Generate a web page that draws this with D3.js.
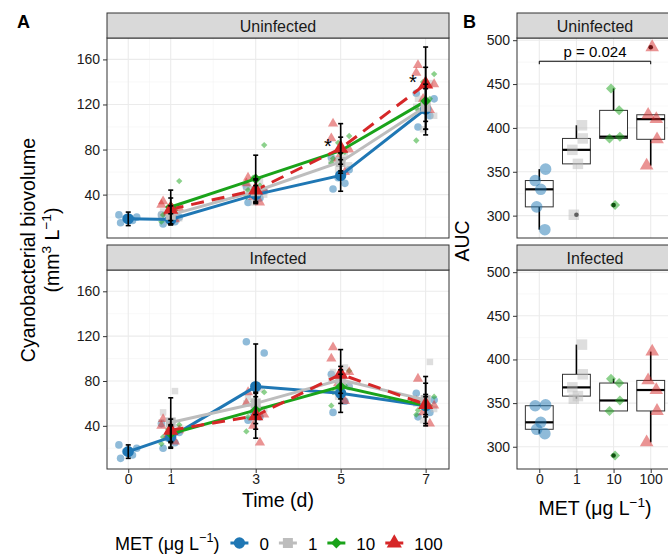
<!DOCTYPE html>
<meta charset="utf-8">
<html>
<head>
<title>Cyanobacterial biovolume and AUC</title>
<script src="https://d3js.org/d3.v7.min.js"></script>
<style>
  body { margin: 0; background: #fff; }
  svg { font-family: "Liberation Sans", Arial, sans-serif; }
  .grid-major { stroke: #ebebeb; stroke-width: 1.1px; }
  .grid-minor { stroke: #f4f4f4; stroke-width: 0.6px; }
  .tick text { font-size: 14px; fill: #1a1a1a; }
  .tick line { stroke: #333; stroke-width: 1px; }
  .frame { fill: none; stroke: #333; stroke-width: 1px; }
  .strip { fill: #d9d9d9; stroke: #333; stroke-width: 1px; }
  .strip-text { font-size: 16px; fill: #1a1a1a; text-anchor: middle; }
  .title { font-size: 19.5px; fill: #000; text-anchor: middle; }
</style>
</head>
<body>
<script>
// ---- data ----
var times = [0, 1, 3, 5, 7];
var metLevels = ["0", "1", "10", "100"];
var colors = ["#1f77b4", "#bdbdbd", "#1aa31a", "#d62728"];

// panel A: means and SD per MET level (null = not measured)
var meanUninf0 = [18.5, 18, 40, 57, 116];
var meanUninf1 = [null, 22, 43, 69, 118];
var meanUninf10 = [null, 29, 54, 79, 123];
var meanUninf100 = [null, 27, 44, 81, 138];
var sdUninf0 = [6, 5, 8, 14, 18];
var sdUninf1 = [null, 8, 10, 8, 20];
var sdUninf10 = [null, 15, 21, 12, 30];
var sdUninf100 = [null, 10, 10, 22, 33];

var meanInf0 = [17, 30, 75, 69, 58];
var meanInf1 = [null, 43, 60, 81, 63];
var meanInf10 = [null, 33, 54, 75, 58];
var meanInf100 = [null, 36, 49, 86, 59];
var sdInf0 = [6, 10, 38, 17, 10];
var sdInf1 = [null, 22, 10, 12, 21];
var sdInf10 = [null, 8, 12, 15, 8];
var sdInf100 = [null, 10, 20, 22, 19];

// panel A: replicates
var repUninf0 = [[15, 17, 19, 20, 22], [14, 16, 18, 20, 22], [33, 37, 40, 43, 47], [45, 50, 55, 62, 73], [100, 110, 115, 125, 130]];
var repUninf1 = [null, [16, 19, 22, 25, 28], [33, 40, 43, 47, 52], [62, 66, 69, 72, 76], [98, 110, 118, 125, 139]];
var repUninf10 = [null, [16, 22, 26, 29, 52], [38, 44, 48, 55, 84], [68, 72, 78, 86, 92], [88, 115, 125, 140, 147]];
var repUninf100 = [null, [18, 24, 28, 31, 34], [33, 38, 44, 50, 55], [60, 72, 80, 90, 103], [115, 125, 138, 148, 155]];

var repInf0 = [[11, 14, 17, 20, 23], [20, 25, 29, 34, 42], [45, 48, 52, 105, 115], [52, 62, 70, 75, 86], [48, 52, 58, 63, 69]];
var repInf1 = [null, [30, 38, 43, 52, 71], [45, 55, 60, 66, 73], [66, 76, 82, 88, 92], [45, 55, 60, 62, 97]];
var repInf10 = [null, [24, 30, 33, 37, 41], [35, 48, 55, 62, 70], [58, 70, 76, 82, 89], [50, 54, 58, 62, 66]];
var repInf100 = [null, [26, 32, 36, 40, 46], [25, 40, 50, 60, 70], [62, 78, 88, 100, 110], [42, 52, 58, 62, 82]];

var starTimes = [5, 7];

// panel B: AUC per replicate
var aucUninf = [[284, 310, 330, 340, 353], [301, 359, 375, 388, 403], [312, 388, 390, 420, 445], [357, 387, 410, 415, 492]];
var aucInf = [[315, 320, 328, 347, 348], [355, 358, 368, 383, 417], [290, 341, 353, 373, 378], [305, 341, 365, 376, 409]];
var pLabel = "p = 0.024";

// ---- setup ----
var W = 668, H = 556;
var svg = d3.select("body").append("svg").attr("width", W).attr("height", H);

var symTypes = [d3.symbolCircle, d3.symbolSquare, d3.symbolSquare, d3.symbolTriangle];
var symRot = [0, 0, 45, 0];
var meanSize = [100, 100, 58, 100];
var repSize = [45, 42, 20, 45];
var boxPtSize = [105, 110, 50, 80];

function addSymbol(g, gi, size, cx, cy) {
  return g.append("path")
    .attr("d", d3.symbol().type(symTypes[gi]).size(size)())
    .attr("transform", "translate(" + cx + "," + cy + ") rotate(" + symRot[gi] + ")")
    .attr("fill", colors[gi]);
}

function drawStrip(label, x0, x1, top, bottom) {
  svg.append("rect").attr("class", "strip")
    .attr("x", x0).attr("y", top).attr("width", x1 - x0).attr("height", bottom - top);
  svg.append("text").attr("class", "strip-text")
    .attr("x", (x0 + x1) / 2).attr("y", (top + bottom) / 2 + 6).text(label);
}

// ---- panel A ----
var xA = d3.scaleLinear().domain([-0.5, 7.55]).range([107, 449]);
var jit = [-0.18, 0.1, -0.06, 0.2, -0.22];

var panelsA = [
  { label: "Uninfected", stripTop: 13, top: 38, bottom: 238,
    means: [meanUninf0, meanUninf1, meanUninf10, meanUninf100],
    sds: [sdUninf0, sdUninf1, sdUninf10, sdUninf100],
    reps: [repUninf0, repUninf1, repUninf10, repUninf100], stars: true, xaxis: false },
  { label: "Infected", stripTop: 245, top: 270, bottom: 469,
    means: [meanInf0, meanInf1, meanInf10, meanInf100],
    sds: [sdInf0, sdInf1, sdInf10, sdInf100],
    reps: [repInf0, repInf1, repInf10, repInf100], stars: false, xaxis: true }
];

panelsA.forEach(function(p) {
  var y = d3.scaleLinear().domain([1.5, 179]).range([p.bottom, p.top]);
  var g = svg.append("g");

  // grid
  [0.5, 2, 4, 6].forEach(function(v) {
    g.append("line").attr("class", "grid-minor").attr("x1", xA(v)).attr("x2", xA(v)).attr("y1", p.top).attr("y2", p.bottom);
  });
  [20, 60, 100, 140].forEach(function(v) {
    g.append("line").attr("class", "grid-minor").attr("x1", 107).attr("x2", 449).attr("y1", y(v)).attr("y2", y(v));
  });
  times.forEach(function(v) {
    g.append("line").attr("class", "grid-major").attr("x1", xA(v)).attr("x2", xA(v)).attr("y1", p.top).attr("y2", p.bottom);
  });
  [40, 80, 120, 160].forEach(function(v) {
    g.append("line").attr("class", "grid-major").attr("x1", 107).attr("x2", 449).attr("y1", y(v)).attr("y2", y(v));
  });

  // replicates
  p.reps.forEach(function(series, gi) {
    series.forEach(function(vals, ti) {
      if (!vals) return;
      vals.forEach(function(v, ri) {
        addSymbol(g, gi, repSize[gi], xA(times[ti] + jit[(ri + gi * 2) % 5]), y(v)).attr("fill-opacity", 0.5);
      });
    });
  });

  // mean lines
  var line = d3.line()
    .defined(function(d) { return d[1] != null; })
    .x(function(d) { return xA(d[0]); })
    .y(function(d) { return y(d[1]); });
  p.means.forEach(function(series, gi) {
    g.append("path")
      .datum(times.map(function(t, i) { return [t, series[i]]; }))
      .attr("d", line)
      .attr("fill", "none")
      .attr("stroke", colors[gi])
      .attr("stroke-width", 3)
      .attr("stroke-dasharray", gi == 3 ? "13,8" : null);
  });

  // mean points
  p.means.forEach(function(series, gi) {
    series.forEach(function(v, ti) {
      if (v == null) return;
      addSymbol(g, gi, meanSize[gi], xA(times[ti]), y(v));
    });
  });

  // error bars
  p.means.forEach(function(series, gi) {
    series.forEach(function(v, ti) {
      if (v == null) return;
      var sd = p.sds[gi][ti], cx = xA(times[ti]);
      g.append("line").attr("x1", cx).attr("x2", cx).attr("y1", y(v - sd)).attr("y2", y(v + sd))
        .attr("stroke", "#000").attr("stroke-width", 1.6);
      [v - sd, v + sd].forEach(function(e) {
        g.append("line").attr("x1", cx - 2.5).attr("x2", cx + 2.5).attr("y1", y(e)).attr("y2", y(e))
          .attr("stroke", "#000").attr("stroke-width", 1.6);
      });
    });
  });

  // significance stars
  if (p.stars) {
    starTimes.forEach(function(t) {
      var v = p.means[3][times.indexOf(t)];
      g.append("text").attr("x", xA(t - 0.3)).attr("y", y(v) + 5)
        .attr("text-anchor", "middle").style("font-size", "20px").text("*");
    });
  }

  g.append("rect").attr("class", "frame").attr("x", 107).attr("y", p.top).attr("width", 342).attr("height", p.bottom - p.top);
  drawStrip(p.label, 107, 449, p.stripTop, p.top);

  svg.append("g").attr("transform", "translate(107,0)")
    .call(d3.axisLeft(y).tickValues([40, 80, 120, 160]).tickSize(4).tickPadding(3))
    .call(function(a) { a.select(".domain").remove(); });

  if (p.xaxis) {
    svg.append("g").attr("transform", "translate(0," + p.bottom + ")")
      .call(d3.axisBottom(xA).tickValues(times).tickSize(4).tickPadding(1))
      .call(function(a) { a.select(".domain").remove(); });
  }
});

// ---- panel B ----
var xB = d3.scalePoint().domain(metLevels).range([517, 673]).padding(0.6);
var jitB = [0.15, -0.07, 0.04, -0.11, 0.17];
var panelsB = [
  { label: "Uninfected", stripTop: 13, top: 38, bottom: 238, data: aucUninf, pval: true, xaxis: false },
  { label: "Infected", stripTop: 245, top: 270, bottom: 469, data: aucInf, pval: false, xaxis: true }
];

panelsB.forEach(function(p) {
  var y = d3.scaleLinear().domain([274.5, 502.5]).range([p.bottom, p.top]);
  var g = svg.append("g");
  var step = xB.step();

  [325, 375, 425, 475].forEach(function(v) {
    g.append("line").attr("class", "grid-minor").attr("x1", 517).attr("x2", 673).attr("y1", y(v)).attr("y2", y(v));
  });
  metLevels.forEach(function(m) {
    g.append("line").attr("class", "grid-major").attr("x1", xB(m)).attr("x2", xB(m)).attr("y1", p.top).attr("y2", p.bottom);
  });
  [300, 350, 400, 450, 500].forEach(function(v) {
    g.append("line").attr("class", "grid-major").attr("x1", 517).attr("x2", 673).attr("y1", y(v)).attr("y2", y(v));
  });

  // boxplots
  p.data.forEach(function(vals, gi) {
    var s = vals.slice().sort(d3.ascending);
    var q1 = d3.quantile(s, 0.25), med = d3.quantile(s, 0.5), q3 = d3.quantile(s, 0.75);
    var iqr = q3 - q1;
    var inside = s.filter(function(v) { return v >= q1 - 1.5 * iqr && v <= q3 + 1.5 * iqr; });
    var lo = d3.min(inside), hi = d3.max(inside);
    var cx = xB(metLevels[gi]), bw = step * 0.75;
    g.append("line").attr("x1", cx).attr("x2", cx).attr("y1", y(hi)).attr("y2", y(q3)).attr("stroke", "#000").attr("stroke-width", 1.6);
    g.append("line").attr("x1", cx).attr("x2", cx).attr("y1", y(q1)).attr("y2", y(lo)).attr("stroke", "#000").attr("stroke-width", 1.6);
    g.append("rect").attr("x", cx - bw / 2).attr("y", y(q3)).attr("width", bw).attr("height", y(q1) - y(q3))
      .attr("fill", "#fff").attr("stroke", "#333").attr("stroke-width", 1);
    g.append("line").attr("x1", cx - bw / 2).attr("x2", cx + bw / 2).attr("y1", y(med)).attr("y2", y(med))
      .attr("stroke", "#000").attr("stroke-width", 2.2);
    s.forEach(function(v) {
      if (v < lo || v > hi) g.append("circle").attr("cx", cx).attr("cy", y(v)).attr("r", 2.3).attr("fill", "#000");
    });
  });

  // jittered points
  p.data.forEach(function(vals, gi) {
    vals.forEach(function(v, ri) {
      addSymbol(g, gi, boxPtSize[gi], xB(metLevels[gi]) + jitB[(ri + gi) % 5] * step, y(v)).attr("fill-opacity", 0.5);
    });
  });

  if (p.pval) {
    var x0 = xB(metLevels[0]), x1 = xB(metLevels[3]), yb = y(476);
    g.append("path").attr("d", "M" + x0 + "," + (yb + 3) + "V" + yb + "H" + x1 + "V" + (yb + 3))
      .attr("fill", "none").attr("stroke", "#000").attr("stroke-width", 1);
    g.append("text").attr("x", (x0 + x1) / 2).attr("y", yb - 4).attr("text-anchor", "middle")
      .style("font-size", "15px").text(pLabel);
  }

  g.append("rect").attr("class", "frame").attr("x", 517).attr("y", p.top).attr("width", 156).attr("height", p.bottom - p.top);
  drawStrip(p.label, 517, 673, p.stripTop, p.top);

  svg.append("g").attr("transform", "translate(517,0)")
    .call(d3.axisLeft(y).tickValues([300, 350, 400, 450, 500]).tickSize(4).tickPadding(3))
    .call(function(a) { a.select(".domain").remove(); });
  if (p.xaxis) {
    svg.append("g").attr("transform", "translate(0," + p.bottom + ")")
      .call(d3.axisBottom(xB).tickSize(4).tickPadding(1))
      .call(function(a) { a.select(".domain").remove(); });
  }
});

// ---- titles ----
svg.append("text").attr("x", 17).attr("y", 28).style("font-size", "18px").style("font-weight", "bold").text("A");
svg.append("text").attr("x", 463).attr("y", 28).style("font-size", "18px").style("font-weight", "bold").text("B");

svg.append("text").attr("class", "title").attr("x", 278).attr("y", 507).text("Time (d)");

function metTitle(sel) {
  sel.append("tspan").text("MET (μg L");
  sel.append("tspan").attr("dy", -8).style("font-size", "0.7em").text("−1");
  sel.append("tspan").attr("dy", 8).text(")");
}
svg.append("text").attr("class", "title").attr("x", 595).attr("y", 515).call(metTitle);

svg.append("text").attr("class", "title").attr("transform", "translate(469,241) rotate(-90)").text("AUC");

var line1 = svg.append("text").attr("class", "title").attr("transform", "translate(0,250) rotate(-90)");
line1.append("tspan").attr("x", 0).attr("y", 35).text("Cyanobacterial biovolume");
var line2 = svg.append("text").attr("class", "title").attr("transform", "translate(0,250) rotate(-90)");
line2.append("tspan").attr("x", 0).attr("y", 59).text("(mm");
line2.append("tspan").attr("dy", -8).style("font-size", "0.7em").text("3");
line2.append("tspan").attr("dy", 8).text(" L");
line2.append("tspan").attr("dy", -8).style("font-size", "0.7em").text("−1");
line2.append("tspan").attr("dy", 8).text(")");

// ---- legend ----
var leg = svg.append("g");
var legTitle = leg.append("text").attr("x", 115).attr("y", 550).style("font-size", "18px").call(metTitle);
var cursor = 115 + legTitle.node().getComputedTextLength() + 20;
metLevels.forEach(function(m, gi) {
  leg.append("line").attr("x1", cursor - 9).attr("x2", cursor + 9).attr("y1", 543).attr("y2", 543)
    .attr("stroke", colors[gi]).attr("stroke-width", 3);
  addSymbol(leg, gi, meanSize[gi], cursor, 543);
  var t = leg.append("text").attr("x", cursor + 20).attr("y", 550).style("font-size", "17px").text(m);
  cursor = cursor + 20 + t.node().getComputedTextLength() + 19;
});
</script>
</body>
</html>
